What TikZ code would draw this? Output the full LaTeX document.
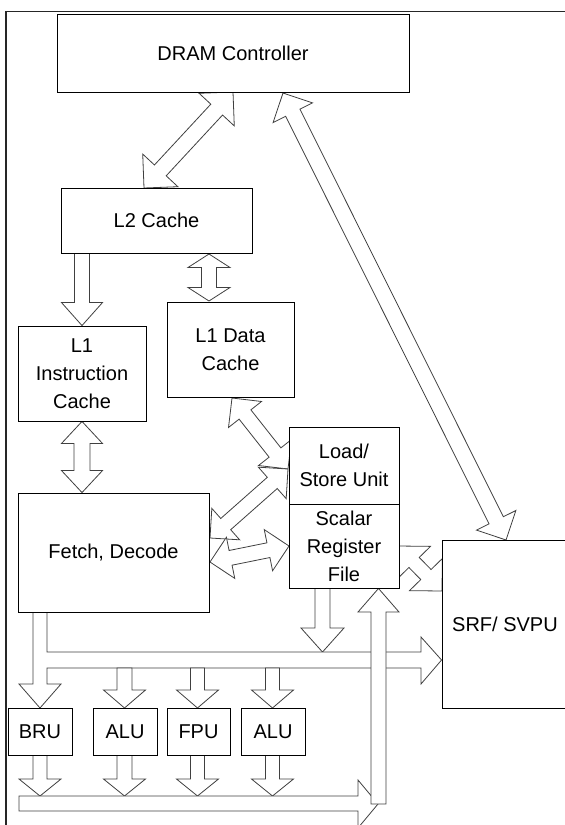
\documentclass[tikz,border=0pt]{standalone}
\usepackage{fontspec}
\setmainfont{Liberation Sans}
\usetikzlibrary{calc}
\pgfdeclarelayer{bg}
\pgfsetlayers{bg,main}

\tikzset{
  box/.style={draw=black, line width=0.9pt, fill=white, inner sep=0pt, align=center,
              font=\fontsize{20}{28}\selectfont},
  barrow/.style={draw=black!75, line width=0.8pt, fill=white, line join=miter},
  frameline/.style={draw=black!85, line width=1.8pt},
}

% double block arrow: #1 tip A, #2 tip B, #3 shaft half-width, #4 head half-width, #5 head length
\newcommand{\dblarrow}[5]{%
  \path ($(#1)!#5!(#2)$) coordinate (hA) ($(#2)!#5!(#1)$) coordinate (hB);
  \draw[barrow] (#1) -- ($(hA)!#4!90:(#2)$) -- ($(hA)!#3!90:(#2)$)
    -- ($(hB)!#3!-90:(#1)$) -- ($(hB)!#4!-90:(#1)$) -- (#2)
    -- ($(hB)!#4!90:(#1)$) -- ($(hB)!#3!90:(#1)$)
    -- ($(hA)!#3!-90:(#2)$) -- ($(hA)!#4!-90:(#2)$) -- cycle;}
% single block arrow: #1 tail centre, #2 tip
\newcommand{\sglarrow}[5]{%
  \path ($(#2)!#5!(#1)$) coordinate (hB);
  \draw[barrow] ($(#1)!#3!90:(#2)$) -- ($(hB)!#3!-90:(#1)$) -- ($(hB)!#4!-90:(#1)$)
    -- (#2) -- ($(hB)!#4!90:(#1)$) -- ($(hB)!#3!90:(#1)$) -- ($(#1)!#3!-90:(#2)$) -- cycle;}

\begin{document}
\begin{tikzpicture}[x=1pt,y=-1pt]
\useasboundingbox (0,0) rectangle (565,825);

% frame
\draw[frameline] (6,830) -- (6,11.5) -- (570,11.5);

% boxes
\node[box, minimum width=352pt, minimum height=78pt] (dram) at (233,53) {DRAM Controller};
\node[box, minimum width=191pt, minimum height=65pt] (l2) at (156.5,220.5) {L2 Cache};
\node[box, minimum width=128pt, minimum height=95pt] (l1i) at (82,373.5) {L1\\Instruction\\Cache};
\node[box, minimum width=127pt, minimum height=95pt] (l1d) at (230.5,349.5) {L1 Data\\Cache};
\node[box, minimum width=110pt, minimum height=77pt] (ls) at (344,465.5) {Load/\\Store Unit};
\node[box, minimum width=110pt, minimum height=84pt] (srf) at (344,546) {Scalar\\Register\\File};
\node[box, minimum width=191pt, minimum height=119pt] (fetch) at (113.5,552.5) {Fetch, Decode};
\node[box, minimum width=126pt, minimum height=168pt] (svpu) at (505,624) {SRF/ SVPU};
\node[box, minimum width=64pt, minimum height=47pt] (bru) at (40,731.5) {BRU};
\node[box, minimum width=64pt, minimum height=47pt] (alua) at (125,731.5) {ALU};
\node[box, minimum width=63pt, minimum height=47pt] (fpu) at (198.5,731.5) {FPU};
\node[box, minimum width=64pt, minimum height=47pt] (alub) at (273,731.5) {ALU};

% connector end points
\coordinate (dramL) at (233,92);
\coordinate (l2T) at (144,188);
\coordinate (dramR) at (283,93);
\coordinate (svpuT) at (506,540);
\coordinate (l2Bi) at (l2.south -| l1i.north);
\coordinate (l2Bd) at (209,254);
\coordinate (l1dT) at (209,301);
\coordinate (l1iB) at (l1i.south);
\coordinate (fetchT) at (fetch.north -| l1i.south);
\coordinate (l1dB) at (232,398);
\coordinate (lsL) at (288,469);
\coordinate (fetchRa) at (210,538);
\coordinate (fetchRb) at (210,562);
\coordinate (srfL) at (289,546);
\coordinate (srfR) at (398,546);
\coordinate (svpuL) at (442,591);
\coordinate (srfB) at (322.5,588);
\coordinate (busT) at (322.5,652);
\coordinate (srfBu) at (378.5,588);
\coordinate (busA) at (124.5,668);
\coordinate (busF) at (197.5,668);
\coordinate (busB) at (272.5,668);
\coordinate (aluaT) at (124.5,708);
\coordinate (fpuT) at (197.5,708);
\coordinate (alubT) at (272.5,708);
\coordinate (bruB) at (40,755);
\coordinate (aluaB) at (124.5,755);
\coordinate (fpuB) at (197.5,755);
\coordinate (alubB) at (272.5,755);
\coordinate (obA) at (40,796);
\coordinate (obB) at (124.5,796);
\coordinate (obF) at (197.5,796);
\coordinate (obU) at (272.5,796);

\begin{pgfonlayer}{bg}
  \dblarrow{svpuT}{dramR}{8pt}{22pt}{22pt}
  \dblarrow{l2T}{dramL}{8pt}{24pt}{24pt}
  \sglarrow{l2Bi}{l1i.north}{7.5pt}{20.5pt}{23pt}
  \dblarrow{l2Bd}{l1dT}{7.5pt}{21pt}{13.5pt}
  \dblarrow{l1iB}{fetchT}{8pt}{20.5pt}{22pt}
  \dblarrow{l1dB}{lsL}{7.5pt}{21pt}{21pt}
  \dblarrow{fetchRa}{lsL}{7.5pt}{21pt}{21pt}
  \dblarrow{fetchRb}{srfL}{7.5pt}{21pt}{21pt}
  \dblarrow{srfR}{svpuL}{7.2pt}{23pt}{23pt}
  \sglarrow{srfB}{busT}{7.5pt}{21.5pt}{24pt}
  % issue bus from Fetch to BRU and SRF/SVPU
  \draw[barrow] (fetch.south -| 33,0) -- (33,684) -- (19,684) -- (40,708) -- (61,684)
    -- (47,684) -- (47,668) -- (421,668) -- (421,684) -- (svpu.west |- 0,660)
    -- (421,637) -- (421,652) -- (47,652) -- (fetch.south -| 47,0);
  \sglarrow{busA}{aluaT}{7.5pt}{21pt}{18pt}
  \sglarrow{busF}{fpuT}{7pt}{21pt}{18pt}
  \sglarrow{busB}{alubT}{7pt}{21pt}{18pt}
  \sglarrow{bruB}{obA}{7pt}{21pt}{17pt}
  \sglarrow{aluaB}{obB}{7.5pt}{21pt}{17pt}
  \sglarrow{fpuB}{obF}{7pt}{21pt}{17pt}
  \sglarrow{alubB}{obU}{7pt}{21pt}{17pt}
  % result bus
  \draw[barrow] (19,796) -- (358,796) -- (358,780) -- (378,804) -- (358,828)
    -- (358,811) -- (19,811) -- cycle;
  % write-back arrow up to the register file
  \draw[barrow] (371,804) -- (371,612) -- (358,612) -- (srf.south -| srfBu) -- (399,612)
    -- (386,612) -- (386,804) -- cycle;
\end{pgfonlayer}
\end{tikzpicture}
\end{document}
